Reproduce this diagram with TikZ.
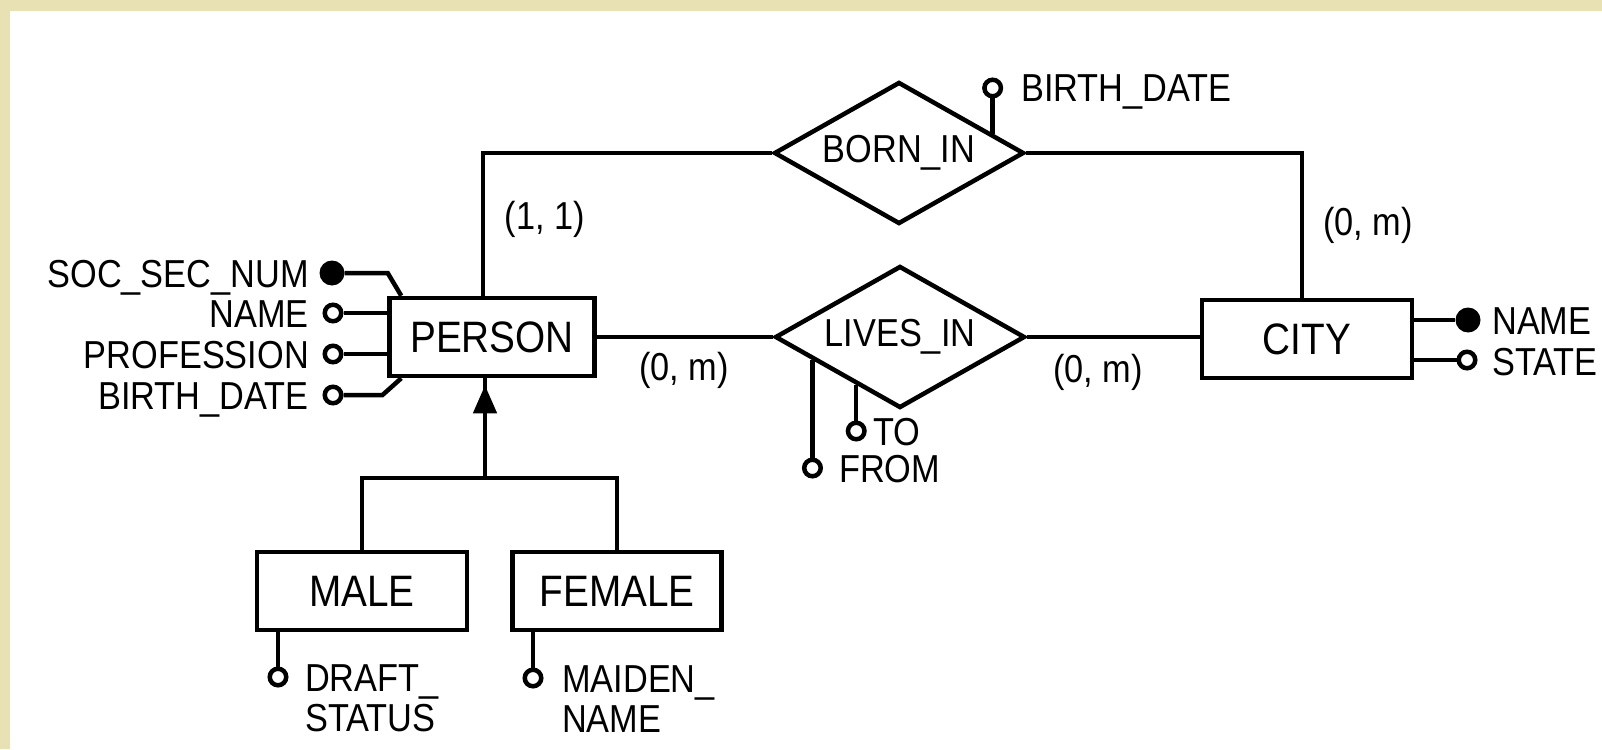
\documentclass[tikz,border=0pt]{standalone}
\usepackage{fontspec}
\setmainfont{Liberation Sans}[FakeStretch=0.88]
\usetikzlibrary{shapes.geometric,arrows.meta,calc}
\definecolor{beige}{RGB}{232,225,180}
\newcommand{\attrfont}{\fontsize{39}{45}\selectfont}
\newcommand{\entfont}{\fontsize{44}{50}\selectfont}
\tikzset{
 conn/.style={line width=4.5pt},
 entitybox/.style={draw, line width=4.5pt, inner sep=0pt, minimum height=78pt, font=\entfont},
 relbox/.style={draw, diamond, aspect=1.76, line width=4.5pt, inner sep=0pt, minimum width=250pt, minimum height=142pt, font=\attrfont},
 ocirc/.style={circle, draw, line width=4.5pt, fill=white, minimum size=16.5pt, inner sep=0pt},
 fcirc/.style={circle, fill=black, minimum size=25pt, inner sep=0pt},
 lbl/.style={inner sep=0pt, font=\attrfont},
}
\begin{document}
\begin{tikzpicture}[x=1pt,y=-1pt]
\useasboundingbox (0,0) rectangle (1602,749);
\fill[beige] (0,0) rectangle (1602,749);
\fill[white] (10,11) rectangle (1602,749);

% entities and relationships
\node[entitybox, minimum width=205pt] (person) at (492,337) {PERSON};
\node[entitybox, minimum width=210pt] (city) at (1307,339) {CITY};
\node[entitybox, minimum width=210pt] (male) at (362,591) {MALE};
\node[entitybox, minimum width=209pt] (female) at (617,591) {FEMALE};
\node[relbox] (born) at (899,153) {BORN\_IN};
\node[relbox] (lives) at (900,337) {LIVES\_IN};

% relationship connectors
\coordinate (pb) at ([xshift=-9pt]person.north);
\coordinate (cb) at ([xshift=-5pt]city.north);
\draw[conn] (born.west) -| (pb);
\draw[conn] (born.east) -| (cb);
\draw[conn] (person.east) -- (lives.west);
\draw[conn] (lives.east) -- (lives.east -| city.west);

% cardinalities
\node[lbl] (c11) at (545,219) {(1, 1)};
\node[lbl] (c0m1) at (684,370) {(0, m)};
\node[lbl] (c0m2) at (1098,372) {(0, m)};
\node[lbl] (c0m3) at (1368,225) {(0, m)};

% PERSON attributes
\node[fcirc] (soc) at (332,273) {};
\node[ocirc] (pname) at (333,313) {};
\node[ocirc] (prof) at (333,354) {};
\node[ocirc] (pbd) at (333,395) {};
\node[lbl, anchor=base east] (socl) at (309,287) {SOC\_SEC\_NUM};
\node[lbl, anchor=base east] (pnamel) at (309,327) {NAME};
\node[lbl, anchor=base east] (profl) at (309,368) {PROFESSION};
\node[lbl, anchor=base east] (pbdl) at (309,409) {BIRTH\_DATE};
\draw[conn] (soc.east) -- ++(43,0) -- ([xshift=14pt]person.north west);
\draw[conn] (pname) -- (pname -| person.west);
\draw[conn] (prof) -- (prof -| person.west);
\draw[conn] (pbd.east) -- ++(39,0) -- ([xshift=14pt]person.south west);

% CITY attributes
\node[fcirc] (cname) at (1468,320) {};
\node[ocirc] (cstate) at (1467,360) {};
\draw[conn] (cname -| city.east) -- (cname);
\draw[conn] (cstate -| city.east) -- (cstate);
\node[lbl, anchor=base west] (cnamel) at (1492,334) {NAME};
\node[lbl, anchor=base west] (cstatel) at (1492,375) {STATE};

% BORN_IN attribute
\coordinate (be) at ($(born.north)!0.736!(born.east)$);
\coordinate (ytop) at (0,88);
\node[ocirc] (bbd) at (be |- ytop) {};
\draw[conn] (bbd) -- (be);
\node[lbl, anchor=base west] (bbdl) at (1021,102) {BIRTH\_DATE};

% LIVES_IN attributes
\coordinate (lf) at ($(lives.west)!0.312!(lives.south)$);
\coordinate (lt) at ($(lives.west)!0.656!(lives.south)$);
\coordinate (yfrom) at (0,468);
\coordinate (yto) at (0,431);
\node[ocirc] (from) at (lf |- yfrom) {};
\node[ocirc] (to) at (lt |- yto) {};
\draw[conn] (lf) -- (from);
\draw[conn] (lt) -- (to);
\node[lbl, anchor=base west] (froml) at (839,482) {FROM};
\node[lbl, anchor=base west] (tol) at (873,445) {TO};

% ISA hierarchy
\coordinate (pbot) at ([xshift=-7pt]person.south);
\coordinate (isaj) at (485,478);
\draw[conn] (male.north) |- (isaj) -| (female.north);
\draw[conn] (isaj) -- (pbot);
\draw[conn, -{Triangle[width=23pt,length=28pt]}, shorten >=7pt] (isaj) -- (pbot);

% MALE / FEMALE attributes
\node[ocirc] (draft) at (278,677) {};
\draw[conn] (draft |- male.south) -- (draft);
\node[lbl, anchor=base west] (draftl1) at (305,691) {DRAFT\_};
\node[lbl, anchor=base west] (draftl2) at (305,731) {STATUS};
\node[ocirc] (maiden) at (533,678) {};
\draw[conn] (maiden |- female.south) -- (maiden);
\node[lbl, anchor=base west] (maidenl1) at (562,692) {MAIDEN\_};
\node[lbl, anchor=base west] (maidenl2) at (562,732) {NAME};
\end{tikzpicture}
\end{document}
